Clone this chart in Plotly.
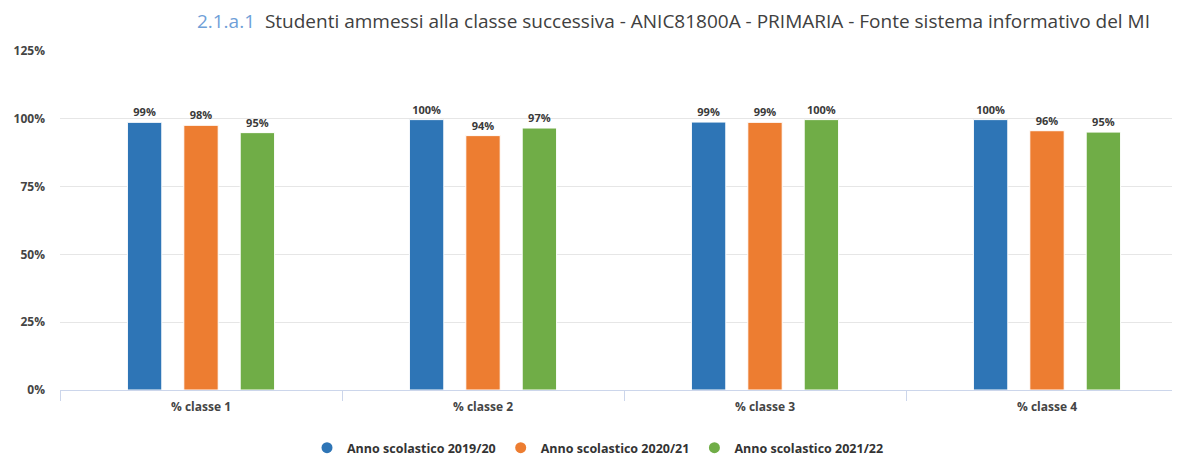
import plotly.graph_objects as go

# dati
categorie = ['% classe 1', '% classe 2', '% classe 3', '% classe 4']
anni = ['Anno scolastico 2019/20', 'Anno scolastico 2020/21', 'Anno scolastico 2021/22']
valori = [
    [98.7, 99.7, 98.8, 99.7],   # 2019/20
    [97.6, 93.8, 98.7, 95.6],   # 2020/21
    [94.9, 96.6, 99.7, 95.1],   # 2021/22
]
etichette = [
    ['99%', '100%', '99%', '100%'],
    ['98%', '94%', '99%', '96%'],
    ['95%', '97%', '100%', '95%'],
]
tick_y = [0, 25, 50, 75, 100, 125]
tick_y_testo = ['0%', '25%', '50%', '75%', '100%', '125%']
colori = ['#2e75b6', '#ed7d31', '#70ad47']

# la pagina html ha un margine di 8px attorno al grafico;
# l'area del grafico prosegue oltre il bordo destro della finestra
W, H = 1180, 449

fig = go.Figure()

for nome, y, txt, col in zip(anni, valori, etichette, colori):
    fig.add_trace(go.Bar(
        x=categorie,
        y=y,
        name=nome,
        text=txt,
        textposition='outside',
        cliponaxis=False,
        textfont=dict(size=11, color='#3a3a3a', weight='bold'),
        marker=dict(color=col, line=dict(color='white', width=1)),
        showlegend=False,
        hoverinfo='x+y',
    ))
    # voce di legenda con pallino
    fig.add_trace(go.Scatter(
        x=[None], y=[None],
        mode='markers',
        name=nome,
        marker=dict(color=col, size=11, symbol='circle'),
    ))

fig.update_layout(
    width=W,
    height=H,
    margin=dict(l=52, r=0, t=43, b=67),
    paper_bgcolor='white',
    plot_bgcolor='white',
    font=dict(family='Open Sans, DejaVu Sans, sans-serif', color='#444444'),
    barmode='group',
    bargap=0.4,
    bargroupgap=0.39,
    title=dict(
        text='<span style="color:#6f9fd8">2.1.a.1</span>  Studenti ammessi alla classe successiva - ANIC81800A - PRIMARIA - Fonte sistema informativo del MI',
        x=1142 / W,
        xref='container',
        xanchor='right',
        y=1 - 13 / H,
        yanchor='middle',
        font=dict(size=19, color='#404040', family='Open Sans, sans-serif'),
    ),
    legend=dict(
        orientation='h',
        x=590 / W,
        xref='container',
        xanchor='center',
        y=9 / H,
        yref='container',
        yanchor='middle',
        font=dict(size=12.5, color='#333333', weight='bold'),
        itemwidth=30,
        tracegroupgap=0,
    ),
)

fig.update_xaxes(
    automargin=False,
    showline=True,
    linecolor='#ccd6eb',
    linewidth=1,
    ticks='outside',
    tickson='boundaries',
    ticklen=10,
    tickcolor='#ccd6eb',
    ticklabelstandoff=6,
    tickfont=dict(size=12, color='#444444', weight='bold'),
    showgrid=False,
)

fig.update_yaxes(
    automargin=False,
    range=[0, 125],
    tickvals=tick_y,
    ticktext=tick_y_testo,
    showgrid=True,
    gridcolor='#e6e6e6',
    zeroline=False,
    ticklabelstandoff=14,
    tickfont=dict(size=12, color='#444444', weight='bold'),
)

fig.write_html("out.html")
